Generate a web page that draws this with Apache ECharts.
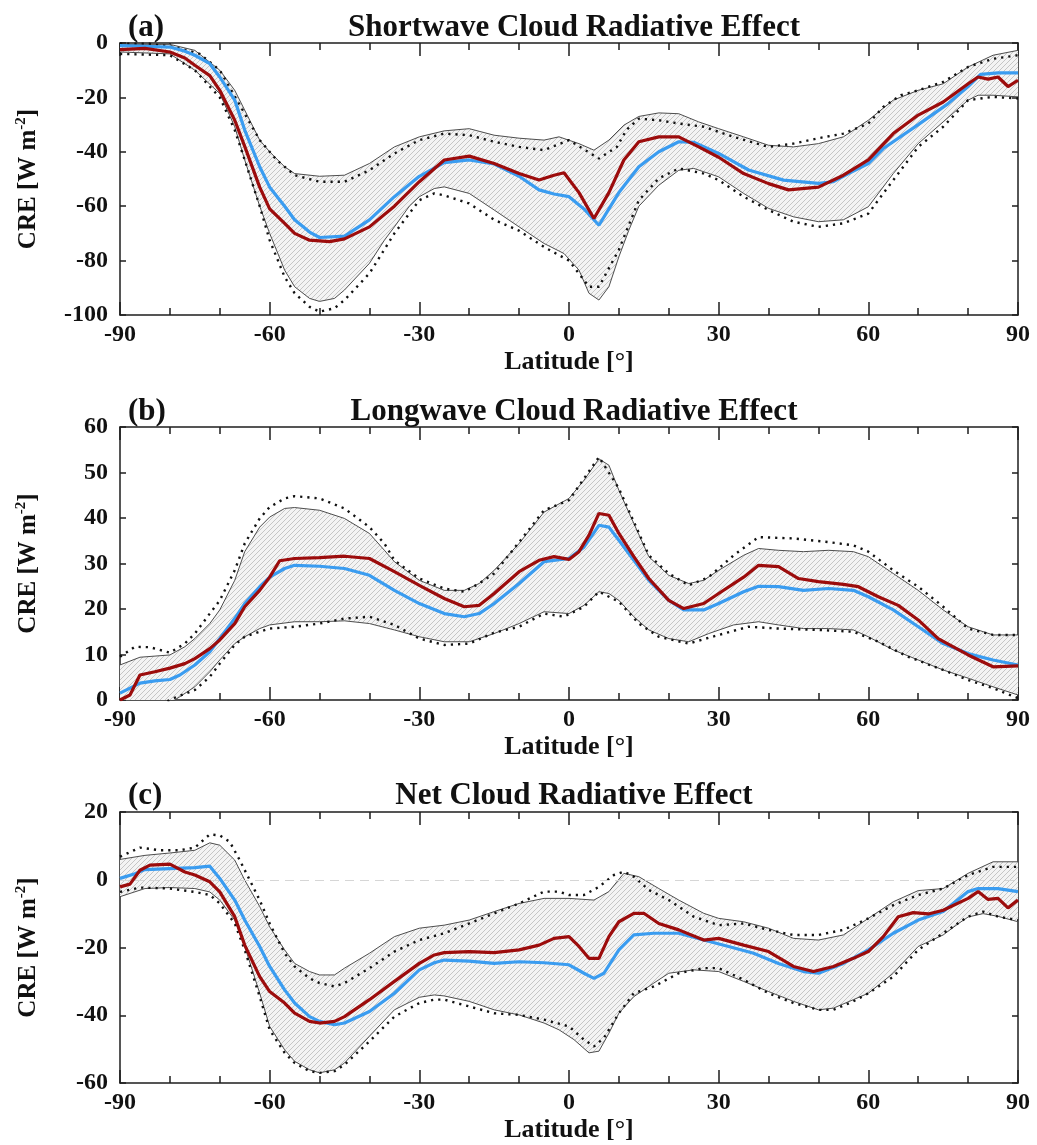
<!DOCTYPE html>
<html>
<head>
<meta charset="utf-8">
<title>Cloud Radiative Effect by latitude</title>
<script src="https://cdn.jsdelivr.net/npm/echarts@6/dist/echarts.min.js"></script>
<style>
  html, body { margin: 0; padding: 0; background: #ffffff; }
  #chart { width: 1037px; height: 1145px; }
</style>
</head>
<body>
<div id="chart"></div>
<script>
// ---------------- data: [latitude, CRE (W m-2)] ----------------
// (a) shortwave
const swBlue = [[-90,-1],[-85,-1.2],[-80,-1.5],[-77,-3],[-75,-4.5],[-72,-7.6],[-70,-12.5],[-67,-21],[-65,-32],[-62,-45.5],[-60,-53],[-57,-60],[-55,-65],[-52,-69.5],[-50,-71.5],[-45,-71],[-40,-65],[-35,-56.5],[-30,-49],[-25,-44],[-20,-43],[-15,-44.5],[-10,-49],[-6,-54],[-3,-55.5],[0,-56.5],[3,-61],[6,-67],[8,-61],[10,-55],[14,-45.5],[18,-40],[22,-36.3],[25,-36.5],[30,-40.6],[36,-46.7],[43,-50.4],[50,-51.6],[53,-51],[56,-48],[60,-44.3],[63,-38.8],[70,-30],[76,-22.3],[80,-16],[82.5,-11.5],[86,-11],[90,-11]];
const swRed = [[-90,-2.4],[-85,-2],[-80,-3.3],[-77,-5.5],[-75,-8.2],[-72,-12],[-70,-17.4],[-67,-28.4],[-65,-38],[-62,-53],[-60,-61],[-57,-66.3],[-55,-70],[-52,-72.5],[-48,-73],[-45,-72],[-40,-67.6],[-35,-60],[-30,-51],[-25,-43],[-20,-41.6],[-15,-44.3],[-10,-48],[-6,-50.4],[-3,-48.6],[-1,-47.7],[2,-55],[5,-64.5],[8,-55],[11,-43],[14,-36.3],[18,-34.5],[22,-34.5],[26,-38.2],[30,-42],[35,-48],[40,-51.7],[44,-54],[50,-53],[55,-48.6],[60,-43],[65,-33.3],[70,-26.5],[75,-21.7],[80,-15],[82,-12.5],[84,-13.3],[86,-12.5],[88,-16],[90,-13.7]];
const swUp = [[-90,-0.5],[-80,-0.5],[-75,-2.7],[-70,-10],[-67,-17.4],[-65,-24.7],[-62,-35.7],[-60,-40],[-57,-45.5],[-55,-48],[-50,-49],[-45,-48.6],[-40,-44.3],[-35,-38.2],[-30,-34.5],[-25,-32.3],[-20,-31.5],[-15,-33.9],[-10,-35],[-5,-35.7],[-2,-34.5],[2,-37],[5,-39.4],[8,-35.7],[11,-30.2],[14,-27],[18,-25.7],[22,-26],[26,-29],[30,-31.5],[35,-34.5],[40,-37.6],[45,-38.2],[50,-37],[55,-34.5],[60,-28.4],[65,-21],[70,-17.4],[75,-15],[80,-8.8],[85,-4.5],[90,-2.7]];
const swLo = [[-90,-3.3],[-80,-4],[-75,-10],[-70,-18.6],[-67,-30.8],[-65,-43],[-62,-60],[-60,-70],[-57,-83.5],[-55,-89.6],[-52,-93.9],[-50,-95],[-47,-93.9],[-45,-90.8],[-40,-81],[-37,-72.5],[-35,-67.6],[-32,-60],[-30,-56.5],[-27,-53.5],[-25,-52.9],[-20,-55.3],[-15,-61.4],[-10,-67.6],[-5,-73.7],[-1,-77.4],[2,-83.5],[4,-92],[6,-94.5],[8,-89.6],[10,-78.6],[12,-68.8],[14,-60],[18,-52.3],[22,-46.8],[25,-46.1],[30,-49.2],[35,-55.3],[40,-60.8],[45,-63.9],[50,-65.7],[55,-65],[60,-60.2],[65,-48],[70,-37],[75,-29],[80,-21],[82,-19.2],[85,-19.2],[90,-19.8]];
const swDotUp = [[-90,-0.3],[-84,-0.3],[-79,-1.5],[-74,-4],[-70,-10],[-67.3,-18.6],[-65,-26],[-62,-35.7],[-58.6,-43],[-55,-48.6],[-50,-51],[-45,-51],[-40,-46.8],[-35,-40.6],[-30,-35.7],[-25,-33.3],[-20,-33.9],[-15,-36.3],[-10,-38.2],[-5,-39.4],[0,-35.7],[6,-42.5],[9.6,-38.2],[11.5,-32],[14,-27.8],[18,-28.4],[22,-29.6],[27,-30.8],[33,-34.5],[40,-38.2],[45,-37],[50,-35],[55,-33.3],[60,-29.6],[63,-23.5],[66.5,-19.2],[70,-17.4],[75,-14.3],[80,-8.8],[85,-5.8],[90,-4.5]];
const swDotLo = [[-90,-4],[-80,-4.5],[-75,-10],[-70,-20],[-67,-32],[-65,-43],[-62,-60],[-60,-72.5],[-57,-86],[-55,-92],[-52,-97],[-50,-98.8],[-47,-97.5],[-45,-94.5],[-40,-84.7],[-35,-70],[-30,-57.8],[-27,-55.3],[-25,-56],[-20,-59],[-15,-65],[-10,-69],[-5,-75],[0,-80],[4,-89.6],[6,-89.6],[10,-76],[14,-57.8],[18,-49.8],[22,-46.1],[27,-48],[30,-50.4],[35,-56.5],[40,-61.4],[45,-65.7],[50,-67.6],[55,-66.3],[60,-62.7],[63,-55.3],[66,-48],[70,-38.2],[75,-30.8],[80,-21],[85,-19.8],[90,-20.4]];

// (b) longwave
const lwBlue = [[-90,1.5],[-88,2.6],[-86,3.7],[-83,4.2],[-80,4.5],[-78,5.5],[-75,7.7],[-72,10.6],[-70,13.5],[-67,17.9],[-65,21.2],[-62,24.9],[-60,27],[-57,28.9],[-55,29.6],[-50,29.4],[-45,28.9],[-40,27.4],[-35,24.1],[-30,21.2],[-25,19],[-21,18.3],[-18,19],[-15,21.2],[-10,25.6],[-5,30.4],[0,31.1],[3,33.6],[6,38.4],[8,38],[10,35.1],[13,30.7],[16,26.3],[20,21.9],[23,19.8],[27,19.8],[30,21.2],[35,23.8],[38,25],[42,24.9],[47,24.1],[52,24.5],[57,24.1],[60,22.7],[65,19.8],[70,16.1],[75,12.4],[80,10.2],[85,8.8],[90,7.7]];
const lwRed = [[-90,0],[-88,1.1],[-86,5.5],[-83,6.2],[-80,7],[-77,8],[-75,9.1],[-72,11.3],[-70,13.2],[-67,16.8],[-65,20.5],[-62,24.1],[-60,27],[-58,30.6],[-55,31.1],[-50,31.3],[-45,31.6],[-40,31.1],[-35,28.2],[-30,25.2],[-25,22.3],[-21,20.5],[-18,20.8],[-15,23.4],[-10,28.2],[-6,30.7],[-3,31.5],[0,30.9],[2,32.6],[4,36.2],[6,41],[8,40.6],[10,36.6],[13,31.5],[16,26.7],[20,21.9],[23,20.1],[27,21.2],[30,23.4],[35,27],[38,29.6],[42,29.3],[46,26.7],[50,26],[55,25.4],[58,24.9],[62,22.7],[66,20.8],[70,17.6],[74,13.5],[80,9.9],[85,7.3],[90,7.5]];
const lwUp = [[-90,7.7],[-86,9.4],[-80,9.9],[-77,11.7],[-75,13.5],[-72,16.8],[-70,19.8],[-67,26.3],[-65,32.6],[-62,38],[-60,40.2],[-57,42.1],[-55,42.3],[-50,41.7],[-45,39.9],[-40,36.6],[-37,32.9],[-35,30.4],[-30,26.3],[-25,24.1],[-21,24.1],[-18,25.6],[-15,28.5],[-10,34.4],[-5,41.3],[0,44.3],[3,48.3],[6,53],[8,51.6],[10,46.1],[13,38.8],[16,31.5],[20,27.4],[24,25.6],[27,26.3],[30,28.5],[35,31.8],[38,33.3],[42,32.9],[47,32.6],[52,32.9],[57,32.6],[60,31.5],[65,27.8],[70,24.1],[75,19.8],[80,16.1],[85,14.3],[90,14.3]];
const lwLo = [[-90,-3],[-85,-2],[-79,0],[-75,2.9],[-72,6.2],[-70,8.8],[-67,12.4],[-65,13.9],[-62,15.7],[-60,16.5],[-55,17.2],[-50,17.2],[-45,17.4],[-40,16.8],[-35,15.4],[-30,13.9],[-25,12.8],[-20,12.8],[-15,14.6],[-10,16.8],[-5,19.4],[0,19],[3,20.8],[6,23.8],[8,23.4],[10,21.9],[13,18.3],[16,15.4],[20,13.5],[24,12.8],[28,14.6],[33,16.5],[38,17.2],[42,16.5],[47,15.7],[52,15.7],[57,15.4],[60,13.9],[65,11],[70,8.8],[75,6.6],[80,4.8],[85,2.9],[90,1.1]];
const lwDotUp = [[-90,9.5],[-87,11.7],[-84,11.6],[-80,10.4],[-77,12.4],[-75,14.6],[-72,19],[-70,21.9],[-67,28.5],[-65,34.4],[-62,39.9],[-60,42.4],[-57,44.3],[-55,44.8],[-50,44.3],[-45,42.1],[-40,38],[-37,34.4],[-35,30.7],[-30,26.7],[-25,24.5],[-21,23.8],[-18,25.6],[-15,27.8],[-10,34.7],[-5,41.7],[0,43.9],[6,53.4],[10,46.5],[16,31.8],[20,27.8],[24,25.2],[28,27],[33,31.8],[38,35.8],[45,35.5],[52,34.7],[57,34],[60,32.6],[65,28.5],[70,24.9],[75,20.5],[80,15.7],[85,14.3],[90,14.3]];
const lwDotLo = [[-90,-4],[-82,-1],[-79,0.5],[-75,2.2],[-72,5.1],[-70,8],[-67,12.1],[-65,13.9],[-62,15],[-60,15.7],[-55,16.1],[-50,16.8],[-45,17.9],[-40,18.3],[-35,16.5],[-30,13.5],[-25,12.1],[-20,12.4],[-15,14.8],[-10,16.1],[-5,19],[-1,18.3],[3,20.5],[6,23.8],[10,21.6],[14,16.8],[18,13.9],[24,12.4],[30,14.3],[36,16.1],[42,15.7],[50,15.4],[57,15],[62,12.8],[68,9.5],[75,6.6],[80,4.4],[85,2.6],[90,0.4]];

// (c) net
const netBlue = [[-90,0.4],[-87,1.8],[-85,3],[-80,3.3],[-75,3.6],[-72,4],[-70,0.4],[-67,-6],[-65,-11.9],[-62,-19.7],[-60,-25.6],[-57,-32.5],[-55,-36.4],[-52,-40.4],[-50,-41.8],[-47,-42.8],[-45,-42.3],[-40,-38.9],[-35,-33.5],[-30,-26.6],[-27,-24.5],[-25,-23.7],[-20,-24],[-15,-24.7],[-10,-24.2],[-5,-24.5],[0,-25.1],[3,-27.6],[5,-29.1],[7,-27.6],[10,-20.7],[13,-16.3],[17,-15.8],[22,-15.8],[27,-17.8],[32,-19.7],[37,-21.7],[42,-24.7],[47,-27.1],[50,-27.6],[55,-24.7],[60,-20.7],[65,-15.8],[70,-11.9],[75,-9.4],[80,-3.5],[82,-2.6],[86,-2.6],[90,-3.5]];
const netRed = [[-90,-2.1],[-88,-1.3],[-86,2.8],[-84,4.3],[-80,4.6],[-77,2.3],[-75,1.4],[-72,-0.6],[-70,-3.6],[-67,-10.9],[-65,-19.3],[-62,-28.6],[-60,-33],[-57,-36.4],[-55,-39.4],[-52,-41.8],[-50,-42.3],[-47,-41.8],[-45,-40.4],[-40,-35.4],[-35,-30],[-30,-24.7],[-27,-22.2],[-25,-21.5],[-20,-21.2],[-15,-21.5],[-10,-20.7],[-6,-19.3],[-3,-17.3],[0,-16.8],[2,-19.7],[4,-23.2],[6,-23.2],[8,-16.8],[10,-12.4],[13,-9.9],[15,-9.9],[18,-12.9],[22,-14.8],[27,-17.8],[30,-17.3],[35,-19.3],[40,-21.2],[45,-25.6],[49,-27.1],[53,-25.6],[57,-23.2],[60,-21.2],[63,-16.8],[66,-10.9],[69,-9.7],[72,-10.1],[75,-9],[80,-5.5],[82,-3.5],[84,-5.8],[86,-5.5],[88,-8.3],[90,-6]];
const netUp = [[-90,6],[-85,7.2],[-80,7.9],[-75,8.7],[-72,10.9],[-70,10.2],[-67,5.8],[-65,-0.1],[-62,-7.9],[-60,-13.9],[-57,-20.7],[-55,-24.7],[-52,-27.1],[-50,-28.1],[-47,-28.1],[-45,-26.1],[-40,-21.7],[-35,-16.8],[-30,-14.3],[-25,-13.4],[-20,-11.9],[-15,-9.4],[-10,-7],[-5,-5.5],[0,-5.5],[5,-6],[8,-3.5],[11,1.9],[14,0.9],[18,-2.6],[22,-6],[27,-9.9],[30,-11.4],[35,-12.4],[40,-14.3],[45,-17.3],[50,-17.8],[55,-16.3],[60,-11.4],[65,-6.5],[70,-3.2],[75,-2.6],[80,1.9],[85,5.3],[90,5.3]];
const netLo = [[-90,-5],[-85,-2.6],[-80,-2.3],[-75,-2.6],[-72,-3.6],[-70,-6],[-67,-11.9],[-65,-19.7],[-62,-33.5],[-60,-43.3],[-57,-50.2],[-55,-53.6],[-52,-56.1],[-50,-57],[-47,-56.1],[-45,-54.1],[-40,-46.2],[-35,-38.4],[-30,-34.7],[-27,-34],[-25,-34.3],[-20,-35.9],[-15,-38.4],[-10,-39.9],[-5,-42.3],[-2,-44.3],[1,-47.2],[4,-51.1],[6,-50.6],[8,-45.3],[10,-39.4],[13,-34.5],[17,-30.5],[20,-27.6],[25,-26.6],[30,-27.1],[35,-30],[40,-33],[45,-35.9],[50,-38.4],[53,-37.9],[57,-35.4],[60,-33.5],[65,-27.6],[70,-19.7],[75,-16.3],[78,-13],[80,-11],[83,-10],[86,-10.8],[90,-12.4]];
const netDotUp = [[-90,6.8],[-86,9.5],[-82,8.7],[-78,8.7],[-75,9.5],[-72,13.4],[-70,13.1],[-68,11.2],[-66,5.8],[-64,-0.1],[-62,-6],[-60,-12.9],[-57,-21.7],[-55,-25.6],[-52,-29.1],[-50,-30.5],[-47,-31.5],[-45,-30.5],[-40,-26.1],[-35,-21.2],[-30,-17.8],[-25,-15.8],[-20,-12.9],[-15,-9.9],[-10,-7],[-5,-3.5],[-2,-3.5],[0,-4.5],[3,-4.5],[6,-2.1],[9,1.4],[11,2.4],[13,0.9],[16,-3],[20,-6],[25,-10.9],[30,-13.4],[35,-12.9],[40,-14.8],[45,-16.3],[50,-16.3],[55,-14.8],[60,-11.4],[65,-7.5],[70,-4.5],[75,-2.6],[80,1.4],[85,3.8],[90,3.8]];
const netDotLo = [[-90,-3.6],[-86,-2.3],[-80,-2.6],[-75,-3.6],[-72,-4.5],[-70,-7],[-67,-12.9],[-65,-20.7],[-62,-34.5],[-60,-44.3],[-57,-51.1],[-55,-54.1],[-52,-56.5],[-50,-57],[-47,-56.5],[-45,-54.6],[-40,-47.7],[-35,-40.4],[-30,-36.4],[-27,-35.4],[-25,-35.4],[-20,-37.4],[-15,-39.4],[-10,-39.9],[-5,-41.3],[0,-43.3],[3,-47.2],[5,-49.2],[7,-46.7],[10,-39.4],[13,-33.5],[17,-31.5],[22,-27.6],[27,-26.1],[30,-26.1],[35,-29.5],[40,-33.5],[45,-36.4],[50,-38.4],[53,-38.4],[57,-35.9],[60,-33.5],[65,-28.6],[70,-20.7],[75,-15.8],[80,-10.9],[83,-9.4],[86,-10.9],[90,-11.9]];

// axis ticks
const latTicks = [-90, -60, -30, 0, 30, 60, 90];
const panelTitles = ['Shortwave Cloud Radiative Effect', 'Longwave Cloud Radiative Effect', 'Net Cloud Radiative Effect'];
const panelTags = ['(a)', '(b)', '(c)'];
const yRanges = [[-100, 0, 20], [0, 60, 10], [-60, 20, 20]];

// ---------------- styling / layout ----------------
const FONT = '"Liberation Serif", "Times New Roman", serif';
const AXIS_COLOR = '#1e1e1e';
const BLUE = '#3a9cf0';
const RED = '#9c0c0c';
const layout = [
  { top: 43, height: 272, titleTop: 7 },
  { top: 427, height: 273, titleTop: 391 },
  { top: 812, height: 271, titleTop: 775 }
];
const panels = [
  { blue: swBlue, red: swRed, up: swUp, lo: swLo, dUp: swDotUp, dLo: swDotLo, zero: false },
  { blue: lwBlue, red: lwRed, up: lwUp, lo: lwLo, dUp: lwDotUp, dLo: lwDotLo, zero: false },
  { blue: netBlue, red: netRed, up: netUp, lo: netLo, dUp: netDotUp, dLo: netDotLo, zero: true }
];

// diagonal hatch used to fill the model spread
function makeHatch() {
  const n = 5;
  const c = document.createElement('canvas');
  c.width = n; c.height = n;
  const g = c.getContext('2d');
  g.fillStyle = '#f4f4f4';
  g.fillRect(0, 0, n, n);
  g.strokeStyle = '#c6c6c6';
  g.lineWidth = 1;
  g.beginPath();
  g.moveTo(-1, n + 1); g.lineTo(n + 1, -1);
  g.moveTo(-1, 1); g.lineTo(1, -1);
  g.moveTo(n - 1, n + 1); g.lineTo(n + 1, n - 1);
  g.stroke();
  return c;
}
const hatch = makeHatch();

const chart = echarts.init(document.getElementById('chart'), null, { renderer: 'canvas' });

const grids = [], xAxes = [], yAxes = [], series = [], titles = [];

const tickStyle = { color: AXIS_COLOR, width: 1.5 };
const labelStyle = { fontFamily: FONT, fontWeight: 'bold', fontSize: 24, color: '#111' };

panels.forEach(function (p, i) {
  const L = layout[i];
  const yr = yRanges[i];
  grids.push({ left: 120, right: 19, top: L.top, height: L.height, containLabel: false });

  // bottom (labelled) and top latitude axes
  xAxes.push({
    gridIndex: i, type: 'value', position: 'bottom', min: -90, max: 90, interval: 30,
    axisLine: { lineStyle: tickStyle, onZero: false },
    axisTick: { inside: true, length: 13, lineStyle: tickStyle },
    minorTick: { show: true, splitNumber: 3, length: 7, lineStyle: tickStyle },
    splitLine: { show: false },
    axisLabel: Object.assign({ margin: 8, formatter: function (v) { return latTicks.indexOf(v) >= 0 ? String(v) : ''; } }, labelStyle),
    name: 'Latitude [\u00b0]', nameLocation: 'middle', nameGap: 34,
    nameTextStyle: { fontFamily: FONT, fontWeight: 'bold', fontSize: 26, color: '#111' }
  });
  xAxes.push({
    gridIndex: i, type: 'value', position: 'top', min: -90, max: 90, interval: 30,
    axisLine: { lineStyle: tickStyle, onZero: false },
    axisTick: { inside: true, length: 13, lineStyle: tickStyle },
    minorTick: { show: true, splitNumber: 3, length: 7, lineStyle: tickStyle },
    splitLine: { show: false },
    axisLabel: { show: false }
  });

  // left (labelled) and right value axes
  yAxes.push({
    gridIndex: i, type: 'value', position: 'left', min: yr[0], max: yr[1], interval: yr[2],
    axisLine: { show: true, lineStyle: tickStyle, onZero: false },
    axisTick: { show: true, inside: true, length: 6, lineStyle: tickStyle },
    splitLine: { show: false },
    axisLabel: Object.assign({ margin: 12 }, labelStyle),
    name: 'CRE [W m{sup|-2}]', nameLocation: 'middle', nameGap: 76, nameRotate: 90,
    nameTextStyle: {
      fontFamily: FONT, fontWeight: 'bold', fontSize: 25, color: '#111', lineHeight: 30,
      rich: { sup: { fontFamily: FONT, fontWeight: 'bold', fontSize: 15, color: '#111', lineHeight: 14, verticalAlign: 'top' } }
    }
  });
  yAxes.push({
    gridIndex: i, type: 'value', position: 'right', min: yr[0], max: yr[1], interval: yr[2],
    axisLine: { show: true, lineStyle: tickStyle, onZero: false },
    axisTick: { show: true, inside: true, length: 6, lineStyle: tickStyle },
    splitLine: { show: false },
    axisLabel: { show: false }
  });

  const xi = 2 * i, yi = 2 * i;

  // hatched spread between the upper and lower solid bounds
  series.push({
    type: 'custom', xAxisIndex: xi, yAxisIndex: yi, silent: true, z: 1, clip: true,
    data: [[p.up[0][0], p.up[0][1]]],
    renderItem: (function (up, lo) {
      return function (params, api) {
        const pts = up.map(function (d) { return api.coord(d); })
          .concat(lo.slice().reverse().map(function (d) { return api.coord(d); }));
        const cs = params.coordSys;
        return {
          type: 'polygon',
          shape: { points: pts },
          style: { fill: { image: hatch, repeat: 'repeat' }, stroke: null },
          clipPath: { type: 'rect', shape: { x: cs.x, y: cs.y, width: cs.width, height: cs.height } }
        };
      };
    })(p.up, p.lo)
  });

  const thin = { color: '#3a3a3a', width: 0.9 };
  const dots = { color: '#111', width: 2.4, type: [2.2, 5], cap: 'butt' };
  [[p.up, thin, 2], [p.lo, thin, 2], [p.dUp, dots, 3], [p.dLo, dots, 3]].forEach(function (s) {
    series.push({
      type: 'line', xAxisIndex: xi, yAxisIndex: yi, data: s[0], showSymbol: false, silent: true,
      lineStyle: s[1], z: s[2], animation: false
    });
  });

  const blueSeries = {
    type: 'line', xAxisIndex: xi, yAxisIndex: yi, data: p.blue, showSymbol: false, silent: true,
    lineStyle: { color: BLUE, width: 3.2 }, z: 4, animation: false
  };
  if (p.zero) {
    blueSeries.markLine = {
      silent: true, symbol: 'none', label: { show: false }, animation: false,
      lineStyle: { color: '#d6d6d6', width: 1, type: [9, 6] },
      data: [{ yAxis: 0 }]
    };
  }
  series.push(blueSeries);
  series.push({
    type: 'line', xAxisIndex: xi, yAxisIndex: yi, data: p.red, showSymbol: false, silent: true,
    lineStyle: { color: RED, width: 3.2 }, z: 5, animation: false
  });

  titles.push({
    text: panelTags[i], left: 123, top: L.titleTop,
    textStyle: { fontFamily: FONT, fontWeight: 'bold', fontSize: 31, color: '#111' }
  });
  titles.push({
    text: panelTitles[i], left: 569, top: L.titleTop, textAlign: 'center',
    textStyle: { fontFamily: FONT, fontWeight: 'bold', fontSize: 31, color: '#111' }
  });
});

chart.setOption({
  backgroundColor: '#ffffff',
  animation: false,
  title: titles,
  grid: grids,
  xAxis: xAxes,
  yAxis: yAxes,
  series: series
});
</script>
</body>
</html>
